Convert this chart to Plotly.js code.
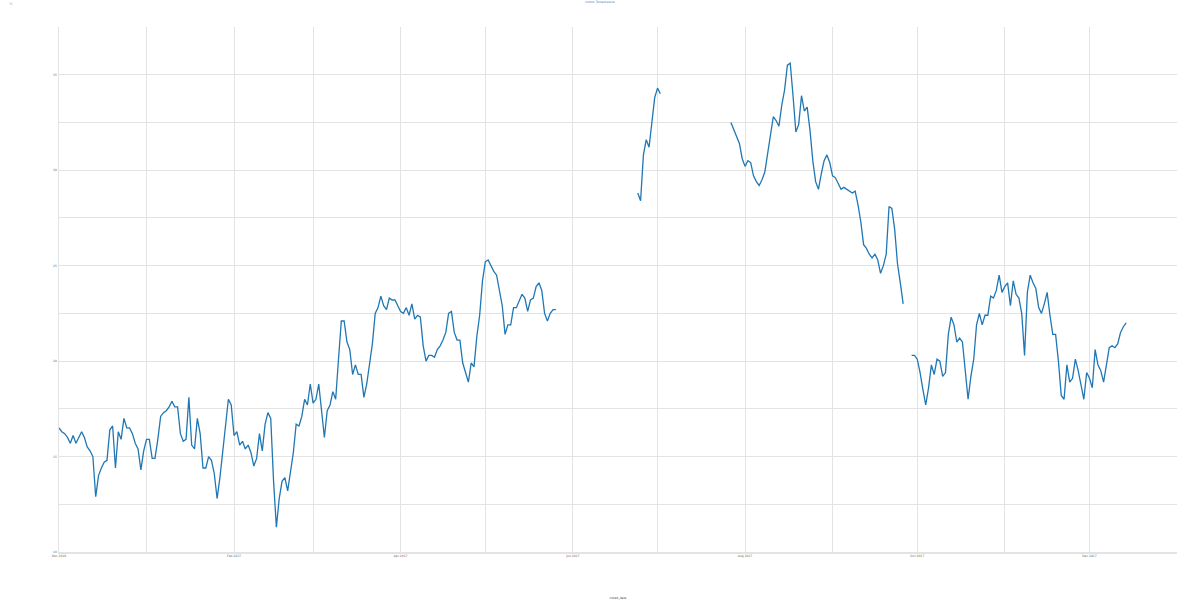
<!DOCTYPE html>
<html>
<head>
<meta charset="utf-8">
<script src="https://cdn.plot.ly/plotly-3.0.1.min.js"></script>
<style>html,body{margin:0;padding:0;background:#fff}#chart{width:1200px;height:600px}</style>
</head>
<body>
<div id="chart"></div>
<script>
// Segment start dates (daily readings)
const segmentStarts = ["2016-12-01", "2017-06-24", "2017-07-27", "2017-09-29"];

// Daily mean temperature (°C) for each segment
const seg1Values = [16.5,16.3,16.2,16.0,15.7,16.1,15.7,16.0,16.3,16.0,15.5,15.3,15.0,12.9,14.0,14.4,14.7,14.8,16.4,16.6,14.4,16.3,15.9,17.0,16.5,16.5,16.2,15.7,15.4,14.3,15.3,15.9,15.9,14.9,14.9,15.9,17.1,17.3,17.4,17.6,17.9,17.6,17.6,16.2,15.8,15.9,18.1,15.6,15.4,17.0,16.2,14.4,14.4,15.0,14.8,14.1,12.8,13.9,15.4,16.7,18.0,17.7,16.1,16.3,15.6,15.8,15.4,15.6,15.2,14.5,14.9,16.2,15.3,16.7,17.3,17.0,13.7,11.3,12.8,13.7,13.9,13.2,14.3,15.2,16.7,16.6,17.1,18.0,17.7,18.8,17.8,18.0,18.8,17.4,16.0,17.4,17.7,18.4,18.0,20.1,22.1,22.1,21.0,20.6,19.3,19.8,19.3,19.3,18.1,18.8,20.0,20.9,22.5,22.8,23.4,22.9,22.7,23.3,23.2,23.2,22.9,22.6,22.5,22.8,22.4,23.0,22.2,22.4,22.3,20.8,20.0,20.3,20.3,20.2,20.6,20.8,21.1,21.5,22.5,22.6,21.5,21.1,21.1,19.9,19.4,18.9,19.9,19.7,21.3,22.4,24.2,25.2,25.3,25.0,24.7,24.5,23.6,22.9,21.4,21.9,21.9,22.8,22.8,23.2,23.5,23.3,22.6,23.2,23.3,23.9,24.1,23.7,22.5,22.1,22.5,22.7,22.7];
const seg2Values = [28.8,28.4,30.8,31.6,31.2,32.6,33.8,34.3,34.0];
const seg3Values = [32.5,32.1,31.7,31.4,30.6,30.2,30.5,30.4,29.7,29.4,29.2,29.5,29.9,30.8,31.7,32.8,32.6,32.3,33.4,34.2,35.5,35.6,33.9,32.0,32.4,33.9,33.1,33.3,32.1,30.5,29.4,29.0,29.8,30.5,30.8,30.4,29.7,29.6,29.3,29.0,29.1,29.0,28.9,28.8,28.9,28.2,27.3,26.1,25.9,25.6,25.4,25.6,25.3,24.6,25.0,25.6,28.1,28.0,26.9,25.1,24.1,23.0];
const seg4Values = [20.3,20.3,20.1,19.4,18.5,17.7,18.6,19.8,19.3,20.1,20.0,19.2,19.4,21.4,22.3,21.9,21.0,21.2,21.0,19.6,18.0,19.2,20.1,21.9,22.5,21.9,22.4,22.4,23.4,23.3,23.7,24.5,23.6,23.9,24.1,22.9,24.2,23.5,23.3,22.5,20.3,23.6,24.5,24.1,23.8,22.8,22.5,23.0,23.6,22.4,21.4,21.4,20.0,18.2,18.0,19.8,18.9,19.1,20.1,19.5,18.8,18.0,19.4,19.1,18.6,20.6,19.8,19.5,18.9,19.9,20.7,20.8,20.7,20.9,21.5,21.8,22.0];

const segments = [seg1Values, seg2Values, seg3Values, seg4Values];

function addDays(iso, n) {
  const d = new Date(iso + "T00:00:00Z");
  d.setUTCDate(d.getUTCDate() + n);
  return d.toISOString().slice(0, 10);
}

const xs = [], ys = [];
segments.forEach((vals, si) => {
  vals.forEach((v, i) => { xs.push(addDays(segmentStarts[si], i)); ys.push(v); });
  if (si < segments.length - 1) { xs.push(addDays(segmentStarts[si], vals.length)); ys.push(null); }
});

const gridColor = "#e3e3e3";
const trace = {
  x: xs, y: ys, type: "scatter", mode: "lines",
  line: {color: "#1f77b4", width: 1.3},
  connectgaps: false, showlegend: false, hoverinfo: "x+y"
};

const layout = {
  width: 1200, height: 600,
  margin: {l: 59, r: 23, t: 27, b: 48, pad: 0},
  paper_bgcolor: "#ffffff", plot_bgcolor: "#ffffff",
  font: {family: "DejaVu Sans, sans-serif", size: 3, color: "#555555"},
  title: {text: "Indoor Temperature", x: 0.5, xanchor: "center", y: 0.998, yanchor: "top",
          font: {size: 3, color: "#4f81bd"}},
  xaxis: {
    type: "date", range: ["2016-12-01", "2018-01-01"],
    tick0: "2016-12-01", dtick: "M2", tickformat: "%b %Y",
    showgrid: true, gridcolor: gridColor, gridwidth: 1,
    minor: {dtick: "M1", showgrid: true, gridcolor: gridColor, gridwidth: 1},
    showline: true, linecolor: gridColor, linewidth: 1.5,
    zeroline: false, ticks: "", tickfont: {size: 3, color: "#666666"},
    title: {text: "noted_date", font: {size: 3, color: "#444444"}, standoff: 40}
  },
  yaxis: {
    range: [10, 37.5], tick0: 10, dtick: 5,
    showgrid: true, gridcolor: gridColor, gridwidth: 1,
    minor: {dtick: 2.5, showgrid: true, gridcolor: gridColor, gridwidth: 1},
    showline: true, linecolor: gridColor, linewidth: 1.5,
    zeroline: false, ticks: "", tickfont: {size: 3, color: "#666666"}
  },
  annotations: [{
    text: "°C", xref: "paper", yref: "paper", x: -0.043, y: 1.051,
    xanchor: "center", yanchor: "top", showarrow: false, font: {size: 3, color: "#777777"}
  }]
};

Plotly.newPlot("chart", [trace], layout, {displayModeBar: false, staticPlot: true});
</script>
</body>
</html>
